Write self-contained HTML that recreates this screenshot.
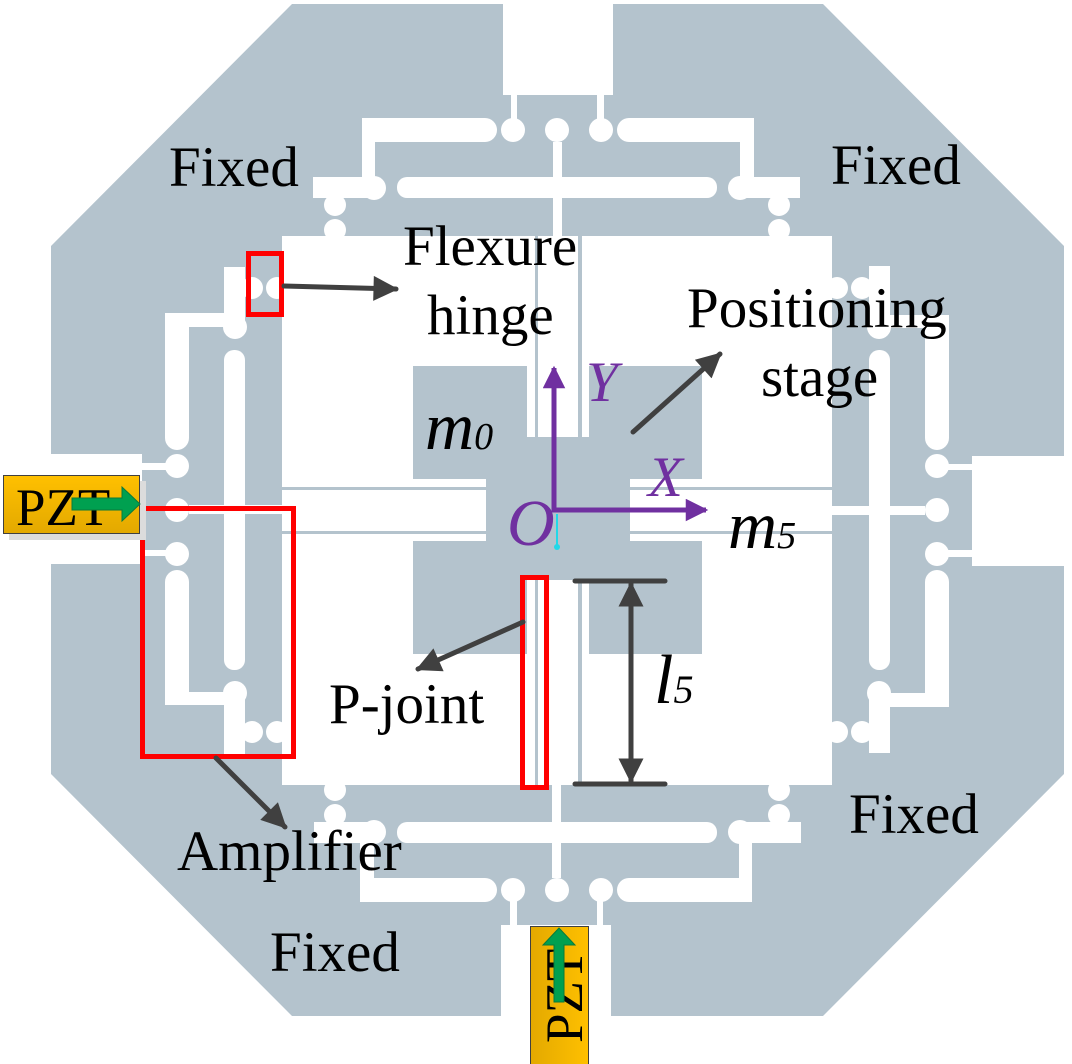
<!DOCTYPE html>
<html><head><meta charset="utf-8"><style>
html,body{margin:0;padding:0;background:#fff;}
svg{display:block;}
text{font-family:"Liberation Serif","DejaVu Serif",serif;}
</style></head><body>
<svg width="1072" height="1064" viewBox="0 0 1072 1064" xmlns="http://www.w3.org/2000/svg">
<defs>
<g id="band" fill="#fff">
  <rect x="503" y="-20" width="110" height="115"/>
  <rect x="511" y="90" width="6" height="32"/>
  <rect x="597" y="90" width="7" height="32"/>
  <circle cx="513" cy="130" r="12"/>
  <circle cx="557" cy="130" r="12"/>
  <circle cx="601" cy="130" r="12"/>
  <rect x="362" y="118" width="123" height="24"/>
  <circle cx="485" cy="130" r="12"/>
  <rect x="629" y="118" width="125" height="24"/>
  <circle cx="629" cy="130" r="12"/>
  <rect x="362" y="118" width="13" height="60"/>
  <rect x="740" y="118" width="14" height="60"/>
  <rect x="313" y="177" width="62" height="21"/>
  <circle cx="374" cy="188" r="12"/>
  <rect x="397" y="177" width="320" height="21" rx="10"/>
  <rect x="740" y="177" width="60" height="21"/>
  <circle cx="740" cy="188" r="12"/>
  <circle cx="335" cy="205" r="11"/>
  <circle cx="335" cy="230" r="11"/>
  <circle cx="779" cy="205" r="11"/>
  <circle cx="779" cy="230" r="11"/>
  <rect x="553" y="142" width="9" height="98"/>
</g>
<marker id="ah" viewBox="0 0 10 10" refX="9" refY="5" markerWidth="6.5" markerHeight="5" markerUnits="strokeWidth" orient="auto-start-reverse">
  <path d="M0,0 L10,5 L0,10 z" fill="#404040"/>
</marker>
<marker id="ap" viewBox="0 0 10 10" refX="9" refY="5" markerWidth="5.5" markerHeight="4.5" markerUnits="strokeWidth" orient="auto">
  <path d="M0,0 L10,5 L0,10 z" fill="#7030a0"/>
</marker>
<linearGradient id="pzt" x1="0" y1="0" x2="0" y2="1">
  <stop offset="0" stop-color="#ffc000"/><stop offset="1" stop-color="#e3a900"/>
</linearGradient>
<linearGradient id="pzt2" x1="0" y1="0" x2="1" y2="0">
  <stop offset="0" stop-color="#e3a900"/><stop offset="1" stop-color="#ffc000"/>
</linearGradient>
</defs>

<polygon points="292,4 823,4 1064,246 1064,774 823,1016 292,1016 51,774 51,246" fill="#b4c3cd"/>
<use href="#band"/>
<use href="#band" transform="rotate(90 557 510)"/>
<use href="#band" transform="rotate(180 557 510)"/>
<use href="#band" transform="rotate(270 557 510)"/>
<rect x="282" y="236" width="550" height="549" fill="#fff"/>

<g fill="#b4c3cd">
  <rect x="413" y="366" width="114" height="113"/>
  <rect x="589" y="366" width="113" height="113"/>
  <rect x="413" y="541" width="114" height="113"/>
  <rect x="589" y="541" width="113" height="113"/>
  <rect x="486" y="437" width="144" height="143"/>
  <rect x="282" y="487" width="204" height="3"/>
  <rect x="282" y="531" width="204" height="3"/>
  <rect x="630" y="487" width="202" height="3"/>
  <rect x="630" y="531" width="202" height="3"/>
  <rect x="535" y="236" width="3" height="201"/>
  <rect x="578" y="236" width="4" height="201"/>
  <rect x="535" y="580" width="3" height="205"/>
  <rect x="578" y="580" width="4" height="205"/>
</g>

<g fill="none" stroke="#ff0000" stroke-width="5">
  <rect x="248.5" y="253.5" width="33" height="61"/>
  <rect x="142.5" y="508.5" width="151" height="248"/>
  <rect x="522.5" y="577.5" width="24" height="210"/>
</g>

<g stroke="#404040" stroke-width="5" stroke-linecap="round" fill="none">
  <line x1="284" y1="286" x2="396" y2="289" marker-end="url(#ah)"/>
  <line x1="633" y1="432" x2="720" y2="354" marker-end="url(#ah)"/>
  <line x1="523" y1="622" x2="418" y2="669" marker-end="url(#ah)"/>
  <line x1="216" y1="758" x2="285" y2="827" marker-end="url(#ah)"/>
  <line x1="575" y1="581" x2="665" y2="581"/>
  <line x1="575" y1="784" x2="665" y2="784"/>
  <line x1="631" y1="584" x2="631" y2="781" marker-start="url(#ah)" marker-end="url(#ah)"/>
</g>

<g stroke="#7030a0" stroke-width="5" fill="none">
  <line x1="554" y1="512" x2="554" y2="368" marker-end="url(#ap)"/>
  <line x1="552" y1="510" x2="706" y2="510" marker-end="url(#ap)"/>
</g>
<line x1="557" y1="514" x2="557" y2="546" stroke="#22d8e8" stroke-width="2"/>
<circle cx="557" cy="547" r="3" fill="#22d8e8"/>

<g font-size="57" fill="#000">
  <text x="169" y="186">Fixed</text>
  <text x="831" y="184">Fixed</text>
  <text x="849" y="833">Fixed</text>
  <text x="270" y="971">Fixed</text>
  <text x="403" y="265">Flexure</text>
  <text x="427" y="334">hinge</text>
  <text x="687" y="327">Positioning</text>
  <text x="761" y="396">stage</text>
  <text x="329" y="723">P-joint</text>
  <text x="177" y="870">Amplifier</text>
</g>
<g font-style="italic" fill="#000" font-family="Liberation Serif, DejaVu Serif, serif">
  <text x="425" y="449" font-size="68">m<tspan font-size="38">0</tspan></text>
  <text x="728" y="548" font-size="68">m<tspan font-size="38">5</tspan></text>
  <text x="654" y="703" font-size="70">l<tspan font-size="40">5</tspan></text>
</g>
<g font-style="italic" fill="#7030a0" font-family="Liberation Serif, DejaVu Serif, serif">
  <text x="507" y="545" font-size="66">O</text>
  <text x="586" y="401" font-size="57">Y</text>
  <text x="648" y="496" font-size="57">X</text>
</g>

<rect x="9" y="481" width="137" height="59" fill="#dcdcdc"/>
<rect x="3.5" y="475.5" width="136" height="58" fill="url(#pzt)" stroke="#404040" stroke-width="1"/>
<text x="16" y="525" font-size="53" fill="#000">PZT</text>
<polygon points="72,498 122,498 122,487 140,504 122,521 122,510 72,510" fill="#00a050" stroke="#0a7a3a" stroke-width="1"/>

<rect x="530.5" y="926.5" width="58" height="140" fill="url(#pzt2)" stroke="#404040" stroke-width="1"/>
<text transform="translate(582 1043) rotate(-90)" font-size="53" fill="#000">PZT</text>
<polygon points="554,1002 554,945 543,945 559,928 575,945 564,945 564,1002" fill="#00a050" stroke="#0a7a3a" stroke-width="1"/>
</svg>
</body></html>
